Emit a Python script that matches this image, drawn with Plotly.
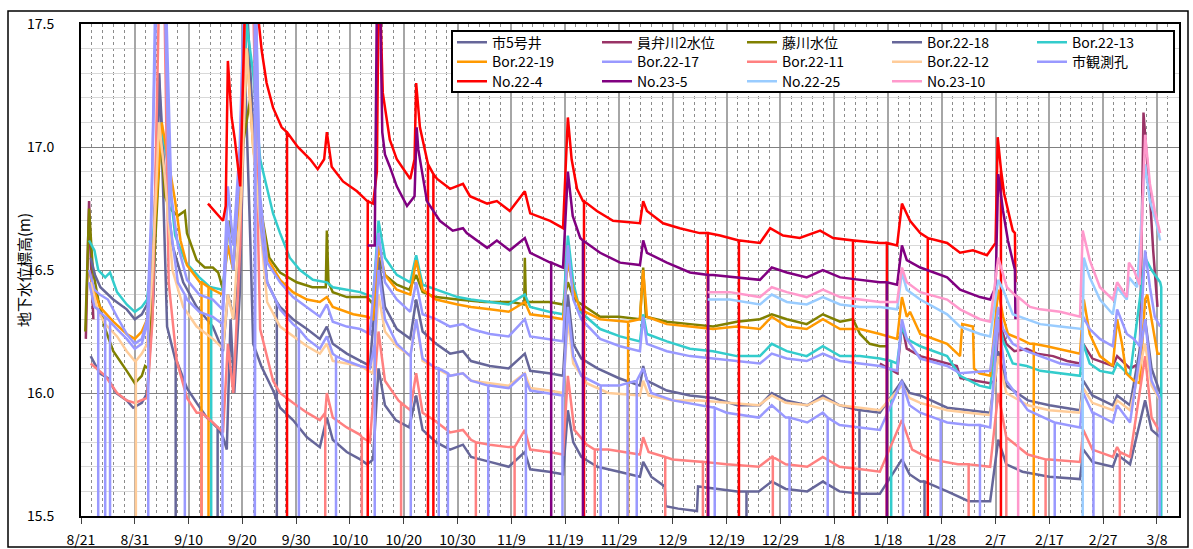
import pandas as pd
import plotly.graph_objects as go

# ---- observation period -------------------------------------------------
START = pd.Timestamp("2023-08-21")
END_DAY = 204.1          # right edge of the time axis (days after START)
LOW = 15.3               # logger drop-outs read below the axis floor

# ---- series: day offsets from 2023-08-21 and groundwater levels (m) -------
s5_d = [1.8, 2.5, 3.5, 5, 6.5, 8.5, 9.7, 11.3, 12.3, 13.5, 14.5, 15.3, 16, 17.8, 19.7, 21.5, 23.4, 25.3, 26.4, 27.1,
        27.8, 28.5, 29.5, 30.5, 31.5, 32, 33.5, 35.7, 37, 39.4, 42, 44.4, 45.7, 46.8, 49.4, 51.9, 53.2, 54.3, 55.3,
        56.5, 58.5, 61, 62.3, 63.5, 66, 68.6, 71, 72.5, 76, 79.5, 82.5, 83.5, 87, 89.6, 90.5, 91.5, 93, 96, 100,
        103.9, 104.5, 106, 108.5, 108.7, 111, 114.5, 114.7, 118, 122, 126, 128.4, 131, 135, 137.9, 141, 145, 148.5,
        152.6, 154, 156, 161, 165, 169, 170.5, 172, 175, 180, 185.7, 186.3, 188, 191.8, 192.6, 195, 197.8, 199, 200.6]
s5_v = [16.15, 16.12, 16.08, 16.06, 16.0, 15.97, 15.94, 15.96, 16.0, 16.4, 17.3, 16.8, 16.27, 16.13, 16.02, 15.96,
        15.9, 15.86, 15.82, 15.77, 16.3, 16.0, 16.4, 17.3, 16.6, 16.2, 16.11, 16.01, 15.94, 15.89, 15.82, 15.78, 15.9,
        15.81, 15.76, 15.73, 15.71, 15.73, 16.1, 15.95, 15.89, 15.86, 15.99, 15.85, 15.8, 15.77, 15.79, 15.74, 15.72,
        15.7, 15.76, 15.69, 15.68, 15.67, 15.93, 15.8, 15.74, 15.7, 15.68, 15.66, 15.72, 15.66, 15.62, 15.54, 15.53,
        15.52, 15.62, 15.61, 15.6, 15.6, 15.64, 15.61, 15.6, 15.64, 15.6, 15.59, 15.59, 15.73, 15.67, 15.64, 15.6,
        15.56, 15.56, 15.81, 15.71, 15.68, 15.66, 15.65, 15.77, 15.72, 15.7, 15.75, 15.71, 15.97, 15.85, 15.82]
s5_drop = [(17.6, 16.13), (25.4, 15.86), (123.7, 15.6), (156.8, 15.64)]

ib_d = [0.9, 1.5, 1.9, 2.3]
ib_v = [16.22, 16.78, 16.5, 16.3]
ib2_d = [148.5, 150, 151.7, 152.6, 153.5, 156, 161, 162.8, 163.5, 169, 170, 170.5, 172, 173.5, 175.8, 177.7, 180.7,
         183.3, 185.7, 186.3, 188, 191.8, 192.6, 195, 196.8, 197.5, 198, 198.7, 199.3, 200.1]
ib2_v = [16.12, 16.1, 16.08, 16.28, 16.18, 16.15, 16.12, 16.11, 16.06, 16.04, 16.05, 16.3, 16.2, 16.17, 16.18, 16.16,
         16.15, 16.13, 16.12, 16.2, 16.14, 16.11, 16.15, 16.1, 16.12, 17.14, 16.99, 16.8, 16.58, 16.35]

fj_d = [0.8, 1.5, 2.2, 3.2, 4.5, 6, 8.5, 10, 11.3, 11.9, 12.5, 13.3, 14.8, 15.6, 16.5, 18, 19.3, 19.7, 21.5, 23, 24.5,
        25.5, 26.4, 27.5, 28.5, 30, 31.5, 33, 35, 37, 40.1, 43, 45.5, 45.7, 46, 46.8, 49.4, 51.9, 53.2, 54.3, 55.3,
        56.5, 58.7, 61, 62.3, 63.5, 66, 70, 75, 80, 82.4, 82.5, 82.7, 87, 89.6, 90.5, 91.7, 96.5, 100, 103.9, 104.5,
        105, 108.9, 113.2, 117.5, 121.9, 126.2, 128.4, 131.2, 134.9, 137.9, 141.1, 143.5, 144.8, 146.6, 148.5, 150]
fj_v = [16.25, 16.75, 16.5, 16.38, 16.26, 16.17, 16.09, 16.04, 16.07, 16.11, 16.1, 16.4, 17.05, 16.8, 16.75, 16.72,
        16.74, 16.65, 16.54, 16.51, 16.51, 16.49, 16.42, 16.7, 16.6, 17.0, 17.2, 16.8, 16.55, 16.49, 16.45, 16.43,
        16.43, 16.66, 16.45, 16.41, 16.39, 16.39, 16.39, 16.36, 16.55, 16.48, 16.44, 16.42, 16.48, 16.41, 16.39, 16.38,
        16.37, 16.37, 16.36, 16.55, 16.37, 16.37, 16.36, 16.45, 16.38, 16.31, 16.31, 16.3, 16.51, 16.31, 16.29, 16.28,
        16.27, 16.29, 16.3, 16.32, 16.3, 16.28, 16.32, 16.29, 16.3, 16.24, 16.2, 16.19, 16.19]

b18_d = [1.8, 2.6, 3.6, 6, 8.5, 10, 11.3, 12.3, 13.5, 14.5, 15.5, 17, 19, 21.5, 24.5, 26.4, 27.3, 28.5, 29.8, 30.8,
         32.2, 34.6, 37, 39.4, 42, 44.4, 45.7, 46.8, 49.4, 51.9, 53.7, 55.3, 56.5, 58.7, 61.2, 62.3, 63.5, 66, 68.6,
         71, 72.5, 76, 79.5, 82.5, 83.5, 87, 89.6, 90.5, 91.5, 93, 96, 100, 103.9, 104.5, 105.2, 108.9, 113.2, 117.5,
         122, 126.2, 128.4, 131, 135, 137.9, 141, 145, 148.5, 152.6, 154, 156, 161, 165, 169, 170.5, 172, 176, 180,
         185.7, 186.3, 188, 191.8, 192.6, 195, 197.8, 199, 200.6]
b18_v = [16.55, 16.48, 16.43, 16.38, 16.34, 16.3, 16.32, 16.36, 16.6, 17.3, 16.9, 16.6, 16.45, 16.35, 16.27, 16.17,
         16.4, 16.3, 16.8, 17.6, 17.0, 16.45, 16.35, 16.3, 16.26, 16.22, 16.27, 16.2, 16.16, 16.13, 16.11, 16.55,
         16.35, 16.26, 16.22, 16.38, 16.25, 16.2, 16.16, 16.17, 16.13, 16.11, 16.1, 16.16, 16.09, 16.08, 16.07, 16.4,
         16.2, 16.14, 16.1, 16.06, 16.03, 16.11, 16.05, 16.01, 15.99, 15.98, 15.95, 15.95, 16.0, 15.97, 15.95, 15.99,
         15.95, 15.93, 15.92, 16.05, 16.0, 15.99, 15.94, 15.93, 15.92, 16.17, 16.03, 15.97, 15.95, 15.93, 16.05,
         15.99, 15.95, 15.99, 15.95, 16.3, 16.1, 16.0]
b18_drop = [(36.4, 16.37), (144.7, 15.93)]

b13_d = [1.5, 2.5, 3.2, 4.5, 5.4, 6.7, 8.5, 10, 11.3, 12.3, 13.3, 14.8, 16, 17.5, 19.5, 22, 24, 26.3, 27.3, 28.3, 29.8,
         30.8, 32, 33.3, 34.5, 35.7, 37, 38.8, 40.7, 43.1, 45.7, 46.8, 49.4, 51.9, 54.3, 55.3, 56.5, 58.7, 61.2, 62.3,
         63.5, 66, 70, 72.5, 76, 79.5, 82.5, 83.5, 87, 89.6, 90.5, 91.5, 92.8, 96.5, 100.2, 103.9, 104.5, 105.2, 108.9,
         113.2, 117.5, 121.9, 126.2, 128.4, 131.2, 134.9, 137.9, 141.1, 144.8, 148.5, 151.7, 152.6, 153.5, 156, 161,
         163.4, 167, 169, 170.5, 171.4, 173.2, 175.8, 178.3, 182, 185.7, 186.3, 187.5, 189.4, 191.8, 192.6, 195,
         197.8, 199, 200.6]
b13_v = [16.62, 16.58, 16.5, 16.47, 16.49, 16.41, 16.36, 16.33, 16.35, 16.38, 16.6, 17.1, 16.95, 16.64, 16.53, 16.47,
         16.43, 16.42, 16.6, 16.5, 17.0, 17.5, 17.3, 16.95, 16.84, 16.73, 16.65, 16.55, 16.5, 16.46, 16.45, 16.43,
         16.42, 16.41, 16.39, 16.7, 16.55, 16.48, 16.45, 16.56, 16.44, 16.42, 16.39, 16.38, 16.37, 16.36, 16.4, 16.35,
         16.33, 16.32, 16.64, 16.45, 16.33, 16.26, 16.23, 16.21, 16.32, 16.24, 16.21, 16.18, 16.17, 16.15, 16.15,
         16.2, 16.17, 16.15, 16.19, 16.15, 16.15, 16.14, 16.12, 16.27, 16.22, 16.19, 16.15, 16.07, 16.03, 16.02,
         16.31, 16.21, 16.12, 16.11, 16.09, 16.08, 16.07, 16.2, 16.12, 16.09, 16.08, 16.12, 16.07, 16.55, 16.5, 16.45]
b13_drop = [(24.2, 16.43), (150.6, 16.13), (200.8, 16.43)]

b19_d = [1.5, 2.2, 3.5, 6, 8.5, 10, 11.3, 12.3, 13.3, 15, 16.2, 17.5, 18.5, 19.7, 22.1, 24.5, 26.3, 27.3, 28.3, 29.8,
         30.8, 32, 34.6, 37, 39.4, 42, 44.4, 45.7, 46.8, 50.6, 53.2, 54.3, 55.3, 56.5, 58.7, 61.2, 62.3, 63.5, 66, 70,
         72.5, 76, 79.5, 82.5, 83.5, 87, 89.6, 90.5, 91.5, 92.8, 96.5, 101.5, 103.9, 104.5, 105.2, 108.9, 113.2,
         117.5, 121.9, 126.2, 128.4, 131.2, 134.9, 137.9, 141.1, 144.8, 148.5, 151.7, 152.6, 153.5, 154.1, 156, 161,
         163.4, 163.8, 165.8, 166, 167, 169, 170.5, 171.4, 172.3, 174.5, 176.4, 179.5, 183.3, 185.7, 186.4, 187.5,
         189.4, 191.8, 192.6, 193.5, 194.3, 195.7, 196.8, 197.8, 198.2, 199.2, 200.1, 200.6]
b19_v = [16.5, 16.43, 16.35, 16.29, 16.24, 16.22, 16.25, 16.3, 16.55, 17.1, 16.95, 16.78, 16.62, 16.52, 16.45, 16.42,
         16.4, 16.6, 16.5, 16.9, 17.4, 17.0, 16.55, 16.46, 16.41, 16.38, 16.37, 16.39, 16.35, 16.32, 16.31, 16.3,
         16.6, 16.48, 16.42, 16.4, 16.54, 16.42, 16.38, 16.36, 16.35, 16.34, 16.33, 16.37, 16.32, 16.31, 16.3, 16.54,
         16.42, 16.34, 16.3, 16.29, 16.3, 16.5, 16.31, 16.28, 16.27, 16.26, 16.27, 16.26, 16.31, 16.27, 16.26, 16.3,
         16.26, 16.26, 16.24, 16.22, 16.39, 16.31, 16.33, 16.24, 16.2, 16.15, 16.28, 16.27, 16.1, 16.08, 16.07, 16.42,
         16.31, 16.24, 16.22, 16.2, 16.19, 16.17, 16.16, 16.38, 16.24, 16.15, 16.11, 16.3, 16.2, 16.08, 16.05, 16.04,
         16.38, 16.4, 16.27, 16.16, 16.16]
b19_drop = [(22.4, 16.45), (23.7, 16.43), (101.7, 16.29), (177.1, 16.2)]

b17_d = [1.5, 2.5, 3.5, 5, 6.7, 8.5, 10, 11.3, 12.3, 13, 14, 15.8, 16.8, 18, 19.7, 22, 24.5, 26.3, 27.3, 28.3, 29.5,
         30.3, 32.5, 33.3, 34.6, 37, 39.4, 42, 44.4, 45.7, 46.8, 49.4, 51.9, 53.7, 55.3, 56.5, 58.7, 61.2, 62.3, 63.5,
         66, 68.6, 71, 72.5, 76, 79.5, 82.5, 83.5, 87, 89.6, 90.5, 91.5, 93, 96.5, 100.2, 103.9, 104.5, 105.2, 108.9,
         113.2, 117.5, 121.9, 126.2, 128.4, 131.2, 134.9, 137.9, 141.1, 144.8, 148.5, 151.7, 152.6, 153.5, 156, 161,
         163.4, 169, 170.5, 171.4, 173.2, 175.8, 178.3, 182, 185.7, 186.3, 187.5, 189.4, 191.8, 192.6, 194.4, 195.7,
         196.8, 197.8, 198.7, 199.6, 200.6]
b17_v = [16.5, 16.42, 16.4, 16.38, 16.31, 16.24, 16.2, 16.22, 16.3, 16.7, 17.6, 17.6, 16.8, 16.6, 16.46, 16.4, 16.38,
         16.34, 16.84, 16.6, 17.0, 17.6, 17.6, 16.8, 16.53, 16.45, 16.39, 16.35, 16.31, 16.36, 16.29, 16.27, 16.26,
         16.24, 16.65, 16.45, 16.38, 16.33, 16.45, 16.32, 16.3, 16.27, 16.28, 16.26, 16.24, 16.23, 16.3, 16.23, 16.22,
         16.21, 16.6, 16.38, 16.3, 16.22, 16.19, 16.17, 16.31, 16.2, 16.17, 16.15, 16.14, 16.13, 16.12, 16.16, 16.14,
         16.13, 16.16, 16.13, 16.12, 16.11, 16.09, 16.3, 16.22, 16.14, 16.11, 16.08, 16.09, 16.35, 16.26, 16.2, 16.17,
         16.15, 16.12, 16.11, 16.31, 16.26, 16.22, 16.19, 16.34, 16.24, 16.22, 16.19, 16.58, 16.43, 16.31, 16.27]

b11_d = [1.8, 3.5, 4.5, 6.7, 8.5, 10, 11.3, 12.3, 13.3, 14.5, 15.5, 16.3, 17.8, 19.7, 21.5, 24.5, 26.4, 27.3, 28.3,
         29.6, 30.5, 32, 33.3, 35.7, 37, 39.4, 42, 44.4, 45.7, 46.8, 49.4, 51.9, 53.7, 55.3, 56.5, 59, 61.2, 62.3, 63.5,
         65.6, 68.6, 71, 72.5, 76, 79.5, 82.5, 83.5, 87, 89.6, 90.5, 91.7, 94, 98, 103.9, 104.5, 105.5, 110, 115, 120,
         126, 128.4, 131, 135, 137.9, 141, 145, 148.5, 152.6, 154.5, 158, 163, 169, 170.5, 172, 176, 180, 185.7, 186.3,
         188, 191.8, 192.6, 195, 197.8, 199, 200.6]
b11_v = [16.12, 16.09, 16.07, 16.0, 15.97, 15.96, 15.97, 15.98, 16.3, 17.6, 17.6, 16.45, 16.13, 15.98, 15.92, 15.88,
         15.84, 16.2, 16.0, 16.6, 17.6, 17.6, 16.26, 16.05, 16.0, 15.96, 15.92, 15.89, 16.0, 15.9, 15.86, 15.83, 15.8,
         16.25, 16.05, 15.97, 15.93, 16.08, 15.92, 15.89, 15.84, 15.85, 15.81, 15.79, 15.78, 15.85, 15.77, 15.76,
         15.75, 16.07, 15.85, 15.79, 15.77, 15.75, 15.82, 15.76, 15.73, 15.72, 15.71, 15.7, 15.74, 15.71, 15.7, 15.74,
         15.7, 15.69, 15.68, 15.89, 15.77, 15.73, 15.71, 15.7, 16.0, 15.82, 15.75, 15.73, 15.72, 15.85, 15.77, 15.74,
         15.78, 15.74, 16.15, 15.9, 15.84]
b11_drop = [(22.4, 15.92), (45.4, 15.92), (52.2, 15.82), (59.5, 15.96), (73.4, 15.8), (80.6, 15.78), (95.5, 15.77),
            (108.6, 15.74), (115.6, 15.72), (128.6, 15.74), (165, 15.71), (172, 15.82), (179.3, 15.73),
            (193.1, 15.76)]

b12_d = [1.8, 3.2, 4.5, 6.7, 8.5, 10, 11.3, 12.3, 13.3, 14.5, 15.5, 17, 19, 21.5, 24.5, 26.4, 27.3, 28.3, 29.8, 30.8,
         32, 34.6, 37, 39.4, 42, 44.4, 45.7, 46.8, 49.4, 51.9, 54.3, 55.3, 56.5, 58.7, 61.2, 62.3, 63.5, 66, 68.6, 71,
         72.5, 76, 79.5, 82.5, 83.5, 87, 89.6, 90.5, 91.5, 94, 98, 103.9, 104.5, 105.5, 110, 115, 120, 126, 128.4,
         131, 135, 137.9, 141, 145, 148.5, 152.6, 154, 156, 161, 165, 169, 170.5, 172, 176, 180, 185.7, 186.3, 188,
         191.8, 192.6, 195, 197.8, 199, 200.6]
b12_v = [16.45, 16.33, 16.28, 16.23, 16.17, 16.13, 16.16, 16.2, 16.5, 17.1, 16.9, 16.5, 16.35, 16.27, 16.22, 16.18,
         16.4, 16.3, 16.8, 17.4, 17.0, 16.37, 16.27, 16.23, 16.19, 16.16, 16.2, 16.13, 16.12, 16.11, 16.08, 16.4,
         16.25, 16.19, 16.15, 16.3, 16.13, 16.1, 16.07, 16.08, 16.05, 16.04, 16.03, 16.08, 16.02, 16.01, 16.0, 16.3,
         16.12, 16.04, 16.0, 15.99, 16.05, 15.99, 15.97, 15.97, 15.96, 15.95, 15.99, 15.96, 15.95, 15.98, 15.95,
         15.94, 15.93, 16.03, 15.98, 15.96, 15.93, 15.92, 15.91, 16.15, 16.0, 15.95, 15.93, 15.92, 16.02, 15.96,
         15.93, 15.97, 15.93, 16.2, 16.03, 15.97]
b12_drop = [(10.2, 16.13)]

kk_d = [1.5, 2.5, 3.5, 5, 6.7, 8.5, 10, 11.3, 12.3, 13, 13.8, 15.6, 16.5, 18, 19.7, 22, 24.5, 26.3, 27.3, 28.3, 29.5,
        30.3, 32.5, 33.3, 34.6, 37, 39.4, 42, 44.4, 45.7, 46.8, 49.4, 51.9, 53.7, 55.3, 56.5, 58.7, 61.2, 62.3, 63.5,
        66, 68.6, 71, 72.5, 76, 79.5, 82.5, 83.5, 87, 89.6, 90.5, 91.5, 93, 96.5, 100, 104.5, 106, 110, 115, 120, 126,
        128.4, 131, 135, 137.9, 141, 145, 148.5, 152.6, 154, 156, 161, 165, 169, 170.5, 172, 176, 180, 185.7, 186.3,
        188, 191.8, 192.6, 195, 197.8, 199, 200.6]
kk_v = [16.45, 16.35, 16.33, 16.3, 16.26, 16.22, 16.18, 16.2, 16.28, 16.6, 17.6, 17.6, 16.7, 16.45, 16.38, 16.33,
        16.31, 16.28, 16.7, 16.5, 16.9, 17.6, 17.6, 16.7, 16.45, 16.34, 16.28, 16.22, 16.18, 16.23, 16.16, 16.13,
        16.11, 16.1, 16.5, 16.3, 16.2, 16.15, 16.3, 16.14, 16.1, 16.07, 16.08, 16.05, 16.03, 16.02, 16.08, 16.01,
        16.0, 15.99, 16.35, 16.15, 16.07, 16.03, 16.03, 16.1, 16.0, 15.97, 15.95, 15.92, 15.9, 15.95, 15.9, 15.88,
        15.92, 15.87, 15.86, 15.85, 16.05, 15.95, 15.92, 15.88, 15.87, 15.86, 16.3, 16.05, 15.93, 15.89, 15.86, 16.0,
        15.92, 15.88, 15.95, 15.88, 16.3, 16.05, 15.98]
kk_drop = [(3.2, 16.34), (4.5, 16.31), (5.4, 16.29), (12.5, 16.3), (19.3, 16.4), (26.3, 16.28), (32.3, 17.5),
           (40.5, 16.26), (47.4, 16.15), (54.6, 16.2), (61.3, 16.16), (66.5, 16.1), (68.2, 16.08), (75.7, 16.03),
           (82.7, 16.05), (89.5, 15.99), (96.6, 16.03), (101.6, 16.04), (103.3, 16.05), (117.8, 15.94),
           (131.7, 15.9), (138.8, 15.9), (152.8, 16.03), (159.8, 15.89), (167.1, 15.87), (181, 15.88),
           (188.2, 15.92), (200.5, 15.98)]

n224_d = [23.6, 26.4, 26.9, 27.3, 28, 28.6, 29.6, 29.9, 30.5, 32.6, 33.6, 34.5, 35.7, 37.3, 38.3, 40.3, 42.6, 44, 45.2,
          45.7, 46.6, 48.7, 51.3, 53.2, 54.3, 55, 55.3, 55.6, 56.1, 57.4, 58.7, 61.2, 62, 62.3, 63, 64.3, 66.2, 68.6,
          71, 72.3, 75.5, 77.3, 79.7, 82.5, 83.5, 87.2, 89.6, 90.5, 91.2, 92.2, 93.3, 95.9, 98.9, 103.9, 104.5, 105.2,
          108.2, 111.3, 115, 118.8, 122.5, 126.2, 128.1, 130.5, 133.6, 137.4, 139.8, 143.5, 148.5, 151.7, 152.6,
          154.1, 156, 161, 163.4, 165.8, 168.4, 170, 170.4, 171, 171.6, 172.3, 173.2, 173.6, 173.7]
n224_v = [16.77, 16.7, 16.76, 17.35, 17.12, 17.03, 16.84, 17.1, 17.6, 17.6, 17.39, 17.26, 17.16, 17.08, 17.06, 17.0,
          16.95, 16.91, 16.95, 17.06, 16.92, 16.86, 16.82, 16.78, 16.77, 16.9, 17.6, 17.6, 17.22, 17.03, 16.95, 16.87,
          16.95, 17.26, 17.08, 16.95, 16.87, 16.83, 16.85, 16.8, 16.77, 16.78, 16.74, 16.82, 16.73, 16.7, 16.67, 17.12,
          16.95, 16.83, 16.78, 16.74, 16.7, 16.69, 16.78, 16.74, 16.69, 16.67, 16.65, 16.64, 16.62, 16.61, 16.67,
          16.64, 16.63, 16.66, 16.63, 16.62, 16.61, 16.6, 16.77, 16.7, 16.65, 16.61, 16.57, 16.58, 16.56, 16.61,
          17.04, 16.91, 16.81, 16.74, 16.66, 16.65, 16.45]
n224_drop = [(38.3, 17.06), (53.3, 16.78), (64.5, 16.93), (65.5, 16.89), (93.5, 16.78), (116.5, 16.65),
             (122.3, 16.62), (143.5, 16.62), (149.8, 16.61), (157.4, 16.63), (171, 16.91)]

n235_d = [53.3, 54.6, 55, 55.6, 56, 56.5, 57.4, 58.7, 60.6, 62, 62.4, 62.7, 64.3, 66.7, 69.1, 71, 71.7, 75.5, 77.3,
          79.7, 82.5, 83.5, 87.2, 89.6, 90.5, 91.4, 92.8, 96.5, 100.2, 103.9, 104.5, 105.2, 108.9, 113.2, 117.5, 121.9,
          126.2, 128.4, 131.2, 134.9, 137.9, 141.1, 144.8, 148.5, 151.7, 152.6, 153.5, 156, 161, 163.4, 167.1, 169, 170,
          170.5, 171.4, 172.3, 173.6, 173.7]
n235_v = [16.6, 16.6, 17.6, 17.6, 17.06, 16.97, 16.92, 16.84, 16.76, 16.8, 17.08, 16.99, 16.78, 16.7, 16.66, 16.67,
          16.65, 16.59, 16.62, 16.58, 16.63, 16.57, 16.53, 16.51, 16.9, 16.72, 16.63, 16.57, 16.53, 16.52, 16.62,
          16.57, 16.53, 16.49, 16.48, 16.47, 16.46, 16.51, 16.49, 16.47, 16.5, 16.47, 16.46, 16.45, 16.44, 16.6, 16.54,
          16.51, 16.47, 16.42, 16.39, 16.38, 16.43, 16.89, 16.74, 16.62, 16.5, 16.3]
n235_drop = [(87.4, 16.53), (93.3, 16.62), (116.6, 16.48), (149.8, 16.45)]

n2225_d = [116.5, 120.6, 126.2, 128.4, 131.2, 134.9, 137.9, 141.1, 144.8, 148.5, 151.7, 152.6, 153.5, 156, 161, 163.4,
           167.1, 169, 170.5, 171.4, 173.2, 175.8, 178.3, 182, 185.7, 186.4, 187.5, 189.4, 191.8, 192.6, 194.4, 194.8,
           196.3, 197.8, 198.7, 199.9, 200.6]
n2225_v = [16.38, 16.38, 16.36, 16.4, 16.37, 16.36, 16.39, 16.36, 16.35, 16.35, 16.34, 16.49, 16.42, 16.38, 16.32,
           16.27, 16.24, 16.23, 16.46, 16.42, 16.32, 16.3, 16.28, 16.27, 16.26, 16.55, 16.47, 16.38, 16.32, 16.43,
           16.38, 16.47, 16.43, 16.93, 16.78, 16.69, 16.62]
n2225_drop = [(186.2, 16.26)]

n2310_d = [116.5, 120.6, 126.2, 128.4, 131.2, 134.9, 137.9, 141.1, 144.8, 148.5, 151.7, 152.6, 153.5, 156, 161, 163.4,
           167.1, 169, 170.5, 172.1, 174, 176.4, 178.3, 182, 185.7, 186.2, 187.5, 189.4, 191.8, 192.6, 194.4, 194.8,
           195.7, 196.8, 197.8, 198.7, 199.6, 200.6]
n2310_v = [16.41, 16.41, 16.39, 16.43, 16.41, 16.39, 16.42, 16.39, 16.38, 16.37, 16.37, 16.51, 16.45, 16.41, 16.38,
           16.34, 16.3, 16.29, 16.55, 16.43, 16.39, 16.35, 16.34, 16.33, 16.31, 16.66, 16.54, 16.43, 16.38, 16.45,
           16.39, 16.53, 16.5, 16.44, 17.05, 16.85, 16.74, 16.65]
n2310_drop = [(174.2, 16.39)]

SERIES = [
    # name, days, values, drop-outs, colour, legend row
    ("市5号井", s5_d, s5_v, s5_drop, "#666699", 1),
    ("員弁川2水位", ib_d + [None] + ib2_d, ib_v + [None] + ib2_v, [], "#993366", 1),
    ("藤川水位", fj_d, fj_v, [], "#808000", 1),
    ("Bor.22-18", b18_d, b18_v, b18_drop, "#666699", 1),
    ("Bor.22-13", b13_d, b13_v, b13_drop, "#33CCCC", 1),
    ("Bor.22-19", b19_d, b19_v, b19_drop, "#FF9900", 2),
    ("Bor.22-17", b17_d, b17_v, [], "#9999FF", 2),
    ("Bor.22-11", b11_d, b11_v, b11_drop, "#FF8080", 2),
    ("Bor.22-12", b12_d, b12_v, b12_drop, "#FFCC99", 2),
    ("市観測孔", kk_d, kk_v, kk_drop, "#9999FF", 2),
    ("No.22-4", n224_d, n224_v, n224_drop, "#FF0000", 3),
    ("No.23-5", n235_d, n235_v, n235_drop, "#800080", 3),
    ("No.22-25", n2225_d, n2225_v, n2225_drop, "#99CCFF", 3),
    ("No.23-10", n2310_d, n2310_v, n2310_drop, "#FF99CC", 3),
]

FONT = "Noto Sans CJK JP"


def as_time(d):
    return None if d is None else START + pd.Timedelta(days=d)


def with_drops(days, vals, drops):
    """Series points in time order; each drop-out is a vertical plunge and return."""
    if not drops:
        return days, vals
    pts = [(d, v) for d, v in zip(days, vals)]
    for d, top in drops:
        pts += [(d, top), (d, LOW), (d, top)]
    pts.sort(key=lambda p: p[0])
    return [p[0] for p in pts], [p[1] for p in pts]


fig = go.Figure()
legend_ids = {1: "legend", 2: "legend2", 3: "legend3"}
for name, days, vals, drops, color, row in SERIES:
    dd, vv = with_drops(days, vals, drops)
    fig.add_trace(go.Scatter(
        x=[as_time(d) for d in dd], y=vv, name=name, mode="lines",
        line=dict(color=color, width=2.5), connectgaps=False,
        legend=legend_ids[row], hoverinfo="skip"))

# ---- pixel helpers for the frame and legend placement --------------------
W, H = 1193, 549
L, R, T, B = 81, 1179, 24, 516


def px(x):
    return (x - L) / (R - L)


def py(y):
    return (B - y) / (B - T)


legend_common = dict(orientation="h", xanchor="left", yanchor="middle", x=px(452),
                     bgcolor="rgba(0,0,0,0)", borderwidth=0, entrywidth=100,
                     entrywidthmode="pixels", itemwidth=30,
                     font=dict(family=FONT, size=14, color="black"))

fig.update_layout(
    width=W, height=H,
    margin=dict(l=L, r=W - R, t=T, b=H - B, autoexpand=False),
    paper_bgcolor="white", plot_bgcolor="white",
    font=dict(family=FONT, size=14, color="black"),
    showlegend=True,
    legend=dict(legend_common, y=py(42.7)),
    legend2=dict(legend_common, y=py(62.2)),
    legend3=dict(legend_common, y=py(81.7)),
    shapes=[
        # outer chart frame
        dict(type="rect", xref="paper", yref="paper", x0=px(8), x1=px(1188), y0=py(547), y1=py(11),
             line=dict(color="#000000", width=1.5), layer="below"),
        # legend box
        dict(type="rect", xref="paper", yref="paper", x0=px(452), x1=px(1174), y0=py(92), y1=py(31),
             line=dict(color="#000000", width=2), fillcolor="white", layer="above"),
    ],
    annotations=[
        dict(text="地下水位標高(m)", textangle=-90, xref="paper", yref="paper", x=px(23), y=0.5,
             xanchor="center", yanchor="middle", showarrow=False,
             font=dict(family=FONT, size=15, color="black")),
    ],
)

fig.update_xaxes(
    type="date", range=[START, START + pd.Timedelta(days=END_DAY)],
    tickmode="linear", tick0=START, dtick=10 * 86400000, tickformat="%-m/%-d",
    ticks="outside", ticklen=6, tickcolor="#404040", ticklabelstandoff=4,
    showgrid=True, gridcolor="#A6A6A6", gridwidth=1.5,
    minor=dict(dtick=2 * 86400000, tick0=START, showgrid=True, gridcolor="#8C8C8C",
               griddash="dot", gridwidth=1),
    showline=True, linecolor="black", linewidth=2, mirror=True,
    zeroline=False, automargin=False, tickfont=dict(family=FONT, size=14),
)
fig.update_yaxes(
    range=[15.5, 17.5], tickmode="linear", tick0=15.5, dtick=0.5, tickformat=".1f",
    ticks="", ticklabelstandoff=22,
    showgrid=True, gridcolor="#808080", gridwidth=1,
    minor=dict(dtick=0.1, showgrid=True, gridcolor="#D9D9D9", gridwidth=1),
    showline=True, linecolor="black", linewidth=2, mirror=True,
    zeroline=False, automargin=False, tickfont=dict(family=FONT, size=14),
)

fig.write_html("out.html")
